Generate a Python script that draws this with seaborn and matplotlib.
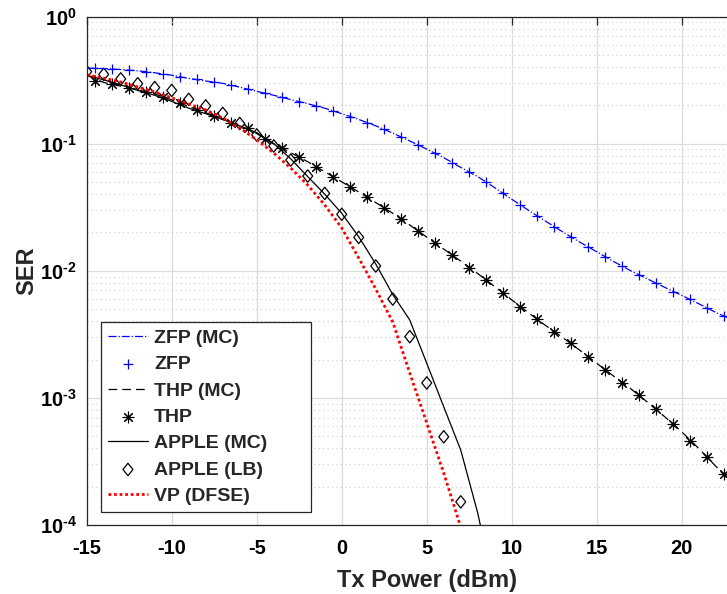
import numpy as np
import pandas as pd
import matplotlib
matplotlib.use("Agg")
import matplotlib.pyplot as plt
import seaborn as sns
from matplotlib.path import Path
from matplotlib.ticker import FixedLocator, LogLocator, NullLocator, NullFormatter

# ---- data -----------------------------------------------------------------
# Monte-Carlo curves (integer Tx power points)
x_mc = list(range(-15, 24))
zfp_mc = [0.393, 0.389, 0.383, 0.374, 0.361, 0.345, 0.326, 0.311, 0.298, 0.278,
          0.258, 0.240, 0.222, 0.206, 0.190, 0.172, 0.155, 0.138, 0.121, 0.105,
          0.0905, 0.0775, 0.065, 0.055, 0.045, 0.0365, 0.0298, 0.0245, 0.0202, 0.0168,
          0.0141, 0.0118, 0.0100, 0.0086, 0.0074, 0.0064, 0.0055, 0.0047, 0.0041]
thp_mc = [0.345, 0.303, 0.283, 0.265, 0.246, 0.221, 0.196, 0.175, 0.155, 0.138,
          0.120, 0.0995, 0.085, 0.072, 0.060, 0.0501, 0.0416, 0.0344, 0.0283, 0.0229,
          0.0184, 0.0148, 0.0119, 0.0095, 0.0075, 0.0059, 0.00465, 0.0037, 0.00298, 0.00237,
          0.00187, 0.00148, 0.00118, 0.00092, 0.00071, 0.00054, 0.00040, 0.00029, 0.00021]

x_apple_mc = list(range(-15, 10))
apple_mc = [0.345, 0.318, 0.290, 0.262, 0.240, 0.215, 0.190, 0.172, 0.155, 0.138,
            0.122, 0.100, 0.076, 0.055, 0.040, 0.0283, 0.0185, 0.0113, 0.0065, 0.0041,
            0.00187, 0.00085, 0.000388, 0.000124, 0.00003]

# analytical points (half-dB grid)
x_half = [v + 0.5 for v in range(-15, 23)]
zfp_pts = [0.391, 0.386, 0.379, 0.368, 0.353, 0.336, 0.320, 0.303, 0.289, 0.267,
           0.249, 0.231, 0.214, 0.198, 0.181, 0.163, 0.146, 0.130, 0.113, 0.0975,
           0.084, 0.0708, 0.060, 0.050, 0.0406, 0.0329, 0.0269, 0.0222, 0.0183, 0.0153,
           0.0129, 0.0108, 0.00925, 0.00805, 0.00684, 0.00596, 0.00512, 0.0044]
thp_pts = [0.313, 0.293, 0.272, 0.257, 0.234, 0.208, 0.185, 0.166, 0.145, 0.132,
           0.108, 0.0918, 0.0789, 0.0658, 0.0549, 0.0458, 0.0378, 0.0313, 0.0255, 0.0206,
           0.0164, 0.0133, 0.0106, 0.00845, 0.00671, 0.00521, 0.00415, 0.00331, 0.00268, 0.0021,
           0.00167, 0.00132, 0.00105, 0.00081, 0.000622, 0.00046, 0.000344, 0.000251]

# APPLE lower bound (integer grid)
x_apple_lb = list(range(-15, 8))
apple_lb = [0.368, 0.351, 0.323, 0.296, 0.276, 0.262, 0.223, 0.198, 0.173, 0.144,
            0.117, 0.0958, 0.0743, 0.0556, 0.0406, 0.0278, 0.0183, 0.0109, 0.00599, 0.00303,
            0.00131, 0.000494, 0.000152]

# VP with DFSE
x_vp = list(range(-15, 9))
vp = [0.347, 0.328, 0.305, 0.279, 0.255, 0.229, 0.205, 0.184, 0.159, 0.133,
      0.107, 0.0843, 0.0643, 0.0472, 0.0329, 0.0217, 0.0126, 0.00718, 0.00395, 0.00157,
      0.000634, 0.000256, 0.000096, 0.00002]

labels = ["ZFP (MC)", "ZFP", "THP (MC)", "THP", "APPLE (MC)", "APPLE (LB)", "VP (DFSE)"]
x_ticks = [-15, -10, -5, 0, 5, 10, 15, 20]
y_ticks = [1e-4, 1e-3, 1e-2, 1e-1, 1e0]
y_tick_labels = ["$\\mathbf{10^{\u20104}}$", "$\\mathbf{10^{\u20103}}$", "$\\mathbf{10^{\u20102}}$",
                 "$\\mathbf{10^{\u20101}}$", "$\\mathbf{10^{0}}$"]

# ---- style ----------------------------------------------------------------
sns.set_style("white")
plt.rcParams["font.family"] = ["Liberation Sans", "DejaVu Sans"]
plt.rcParams["font.weight"] = "bold"
plt.rcParams["mathtext.fontset"] = "custom"
plt.rcParams["mathtext.rm"] = "Liberation Sans"
plt.rcParams["mathtext.bf"] = "Liberation Sans:bold"

fig = plt.figure(figsize=(7.27, 5.94), dpi=100)
ax = fig.add_axes([0.1193, 0.1162, 0.9354, 0.856])

# open diamond marker
diamond = Path([(0, 1), (0.8, 0), (0, -1), (-0.8, 0), (0, 1)],
               [Path.MOVETO, Path.LINETO, Path.LINETO, Path.LINETO, Path.CLOSEPOLY])
asterisk = (8, 2, 0)

blue = (0, 0, 1)
red = (1, 0, 0)
black = (0, 0, 0)

sns.lineplot(x=x_mc, y=zfp_mc, ax=ax, color=blue, linestyle="-.", linewidth=0.9,
             label=labels[0], estimator=None, sort=False)
sns.scatterplot(x=x_half, y=zfp_pts, ax=ax, color=blue, marker="+", s=60,
                linewidth=0.9, label=labels[1])
sns.lineplot(x=x_mc, y=thp_mc, ax=ax, color=black, linestyle=(0, (7, 4)), linewidth=0.9,
             label=labels[2], estimator=None, sort=False)
sns.scatterplot(x=x_half, y=thp_pts, ax=ax, color=black, marker=asterisk, s=60,
                linewidth=0.8, label=labels[3])
sns.lineplot(x=x_apple_mc, y=apple_mc, ax=ax, color=black, linestyle="-", linewidth=0.9,
             label=labels[4], estimator=None, sort=False)
sns.scatterplot(x=x_apple_lb, y=apple_lb, ax=ax, marker=diamond, s=80,
                facecolor="none", edgecolor=black, linewidth=0.9, label=labels[5])
sns.lineplot(x=x_vp, y=vp, ax=ax, color=red, linestyle=(0, (1, 1)), linewidth=2.0,
             label=labels[6], estimator=None, sort=False)

# keep the diamonds open
ax.collections[-1].set_facecolor("none")
ax.collections[-1].set_edgecolor(black)

ax.set_yscale("log")
ax.set_xlim(-15, 25)
ax.set_ylim(1e-4, 1)

ax.xaxis.set_major_locator(FixedLocator(x_ticks))
ax.xaxis.set_minor_locator(NullLocator())
ax.set_xticklabels([str(t) for t in x_ticks])
ax.yaxis.set_major_locator(FixedLocator(y_ticks))
ax.set_yticklabels(y_tick_labels)
ax.yaxis.set_minor_locator(LogLocator(base=10, subs=np.arange(2, 10), numticks=20))
ax.yaxis.set_minor_formatter(NullFormatter())

ax.grid(which="major", axis="both", color="#dcdcdc", linestyle="-", linewidth=0.9)
ax.grid(which="minor", axis="y", color="#cccccc", linestyle=(0, (1, 3)), linewidth=0.8)
ax.set_axisbelow(True)

spine_col = "#262626"
for side in ["left", "bottom", "top"]:
    ax.spines[side].set_visible(True)
    ax.spines[side].set_color(spine_col)
    ax.spines[side].set_linewidth(0.9)
ax.spines["right"].set_visible(False)

ax.tick_params(axis="both", which="major", direction="in", length=6, width=0.9,
               colors=spine_col, labelcolor="black", labelsize=14.5, top=True, right=False)
ax.tick_params(axis="x", which="major", pad=10)
ax.tick_params(axis="y", which="major", pad=7)
ax.tick_params(axis="y", which="minor", direction="in", length=3.5, width=0.8,
               colors=spine_col, right=False)
for t in ax.get_xticklabels():
    t.set_fontweight("bold")

ax.set_xlabel("Tx Power (dBm)", fontsize=17, fontweight="bold", labelpad=8)
ax.set_ylabel("SER", fontsize=17, fontweight="bold")
ax.yaxis.set_label_coords(-0.072, 0.5)

leg = ax.legend(loc="lower left", bbox_to_anchor=(0.0206, 0.026, 0.309, 0.38), mode="expand",
                borderaxespad=0,
                prop={"family": "Liberation Sans", "weight": "bold", "size": 14},
                handlelength=2.1, handletextpad=0.3, labelspacing=0.45, borderpad=0.35,
                fancybox=False, framealpha=1, edgecolor=spine_col)
leg.get_frame().set_linewidth(0.9)

fig.savefig("out.png", dpi=100)
